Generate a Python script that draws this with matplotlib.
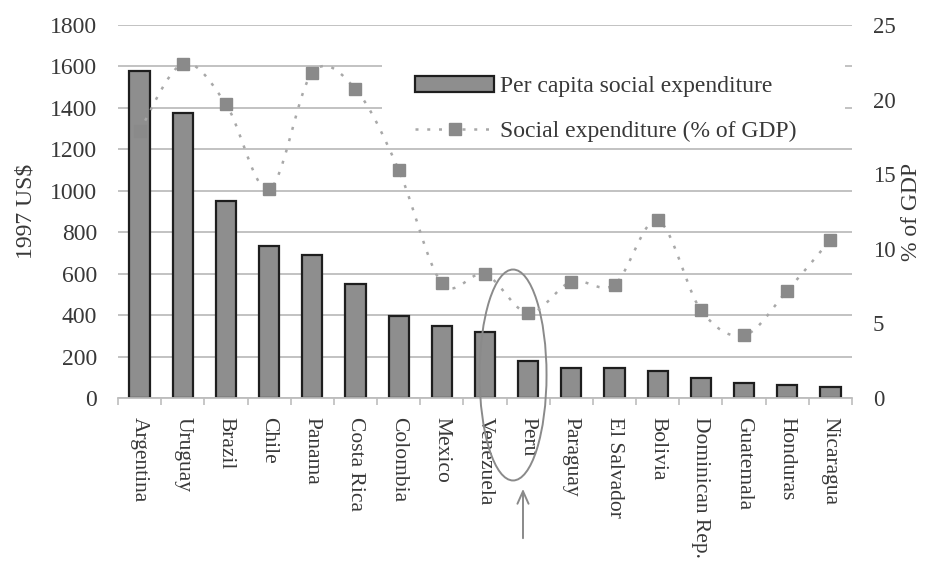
import numpy as np
import matplotlib
matplotlib.use("Agg")
import matplotlib.pyplot as plt
from matplotlib.patches import Ellipse, Rectangle, Patch
from matplotlib.lines import Line2D

plt.rcParams['font.family'] = ['Liberation Serif', 'DejaVu Serif']

countries = ["Argentina", "Uruguay", "Brazil", "Chile", "Panama", "Costa Rica",
             "Colombia", "Mexico", "Venezuela", "Peru", "Paraguay", "El Salvador",
             "Bolivia", "Dominican Rep.", "Guatemala", "Honduras", "Nicaragua"]
per_capita_usd = [1580, 1377, 952, 734, 690, 550, 396, 349, 320, 180, 146, 146,
                  132, 98, 74, 63, 52]
pct_gdp = [17.9, 22.4, 19.7, 14.0, 21.8, 20.7, 15.3, 7.7, 8.3, 5.7, 7.8, 7.6,
           11.9, 5.9, 4.2, 7.2, 10.6]

left_ticks = list(range(0, 1801, 200))
right_ticks = [0, 5, 10, 15, 20, 25]

GRID = "#bdbdbd"
BAR_FILL = "#8e8e8e"
BAR_EDGE = "#1e1e1e"
MARK = "#8a8a8a"
DOTS = "#a8a8a8"
TEXT = "#383838"


def smooth_curve(xs, ys, steps=24):
    """Catmull-Rom style smoothing through the given points."""
    xs = np.asarray(xs, float)
    ys = np.asarray(ys, float)
    px = np.concatenate([[xs[0]], xs, [xs[-1]]])
    py = np.concatenate([[ys[0]], ys, [ys[-1]]])
    out_x, out_y = [], []
    t = np.linspace(0, 1, steps)
    for i in range(1, len(px) - 2):
        p0x, p1x, p2x, p3x = px[i - 1], px[i], px[i + 1], px[i + 2]
        p0y, p1y, p2y, p3y = py[i - 1], py[i], py[i + 1], py[i + 2]
        c1x, c1y = p1x + (p2x - p0x) / 6, p1y + (p2y - p0y) / 6
        c2x, c2y = p2x - (p3x - p1x) / 6, p2y - (p3y - p1y) / 6
        bx = ((1 - t) ** 3 * p1x + 3 * (1 - t) ** 2 * t * c1x
              + 3 * (1 - t) * t ** 2 * c2x + t ** 3 * p2x)
        by = ((1 - t) ** 3 * p1y + 3 * (1 - t) ** 2 * t * c1y
              + 3 * (1 - t) * t ** 2 * c2y + t ** 3 * p2y)
        out_x.extend(bx)
        out_y.extend(by)
    return np.array(out_x), np.array(out_y)


fig = plt.figure(figsize=(9.34, 5.67), dpi=100)
ax = fig.add_axes([118 / 934, 1 - 398 / 567, (852 - 118) / 934, (398 - 25) / 567])
ax2 = ax.twinx()

x = np.arange(len(countries))
ax.bar(x, per_capita_usd, width=0.47, color=BAR_FILL, edgecolor=BAR_EDGE,
       linewidth=1.6, zorder=2)

ax.set_xlim(-0.5, len(countries) - 0.5)
ax.set_ylim(0, 1800)
ax.set_yticks(left_ticks)
ax.set_axisbelow(True)
ax.yaxis.grid(True, color=GRID, linewidth=1.3, zorder=0)

ax.set_xticks(x)
ax.set_xticklabels(countries, rotation=270, fontsize=15.5, color=TEXT,
                   va="top", ha="center")
ax.set_xticks(np.arange(-0.5, len(countries), 1), minor=True)
ax.tick_params(axis="x", which="major", length=0, pad=14)
ax.tick_params(axis="x", which="minor", length=5, color=GRID, width=1.2)
ax.tick_params(axis="y", length=0, pad=15, labelsize=17, labelcolor=TEXT)

for side in ["left", "right", "top"]:
    ax.spines[side].set_visible(False)
    ax2.spines[side].set_visible(False)
ax.spines["bottom"].set_color(GRID)
ax.spines["bottom"].set_linewidth(1.3)
ax2.spines["bottom"].set_visible(False)

ax.set_ylabel("1997 US$", fontsize=17, color=TEXT, labelpad=10)

# white backdrop behind the legend, hiding the gridlines there
ax.add_patch(Rectangle((382, 567 - 143), 845 - 382, 143 - 50,
                       transform=None, facecolor="white", edgecolor="none",
                       zorder=1))

cx, cy = smooth_curve(x, pct_gdp)
ax2.plot(cx, cy, linestyle=(0, (1.2, 3.5)), color=DOTS, linewidth=1.8, zorder=3)
ax2.plot(x, pct_gdp, linestyle="none", marker="s", markersize=8.5,
         color=MARK, zorder=4)
ax2.set_ylim(0, 25)
ax2.set_yticks(right_ticks)
ax2.tick_params(axis="y", length=0, pad=15, labelsize=16.5, labelcolor=TEXT)
ax2.set_ylabel("% of GDP", fontsize=17, color=TEXT, rotation=90, labelpad=4)

handles = [
    Patch(facecolor=BAR_FILL, edgecolor=BAR_EDGE, linewidth=1.6,
          label="Per capita social expenditure"),
    Line2D([0], [0], linestyle=(0, (1.2, 3.5)), color=DOTS, linewidth=1.8,
           marker="s", markersize=8.5, markerfacecolor=MARK,
           markeredgecolor=MARK, label="Social expenditure (% of GDP)"),
]
leg = ax2.legend(handles=handles, loc="upper left", frameon=False,
                 bbox_to_anchor=(415 / 934, 1 - 76 / 567),
                 bbox_transform=fig.transFigure, borderaxespad=0,
                 borderpad=0, handlelength=3.36, handleheight=0.66,
                 handletextpad=0.26, labelspacing=0.99, fontsize=17)
for t in leg.get_texts():
    t.set_color(TEXT)

# highlight Peru
peru = countries.index("Peru")
ax.add_patch(Ellipse((peru - 0.35, 111), 1.55, 1018, fill=False,
                     edgecolor="#8a8a8a", linewidth=1.4, clip_on=False,
                     zorder=5))
ax.annotate("", xy=(peru - 0.12, -425), xytext=(peru - 0.12, -690),
            xycoords="data", textcoords="data", annotation_clip=False,
            arrowprops=dict(arrowstyle="->,head_length=0.9,head_width=0.4",
                            color="#8a8a8a", linewidth=1.4))

fig.savefig("out.png", dpi=100)
